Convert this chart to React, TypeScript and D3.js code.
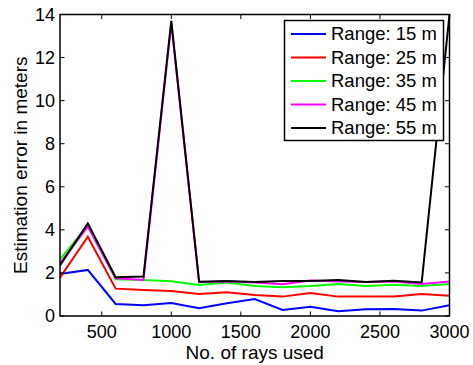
import React from "react";
import * as d3 from "d3";

const rays = [200, 400, 600, 800, 1000, 1200, 1400, 1600, 1800, 2000, 2200, 2400, 2600, 2800, 3000];
const range15 = [1.95, 2.14, 0.56, 0.5, 0.6, 0.36, 0.59, 0.79, 0.28, 0.43, 0.22, 0.31, 0.33, 0.25, 0.5];
const range25 = [1.78, 3.68, 1.27, 1.21, 1.16, 1.02, 1.1, 0.97, 0.9, 1.07, 0.9, 0.9, 0.9, 1.02, 0.94];
const range35 = [2.63, 4.2, 1.7, 1.67, 1.61, 1.44, 1.56, 1.39, 1.33, 1.39, 1.49, 1.39, 1.45, 1.39, 1.49];
const range45 = [2.45, 4.15, 1.75, 1.67, 13.6, 1.57, 1.6, 1.55, 1.47, 1.65, 1.6, 1.58, 1.6, 1.49, 1.6];
const range55 = [2.35, 4.3, 1.8, 1.83, 13.7, 1.59, 1.63, 1.58, 1.62, 1.62, 1.67, 1.58, 1.64, 1.56, 14];

const seriesNames = ["Range: 15 m", "Range: 25 m", "Range: 35 m", "Range: 45 m", "Range: 55 m"];
const seriesValues = [range15, range25, range35, range45, range55];
const seriesColors = ["#0000ff", "#ff0000", "#00ff00", "#ff00ff", "#000000"];

const xTicks = [500, 1000, 1500, 2000, 2500, 3000];
const yTicks = [0, 2, 4, 6, 8, 10, 12, 14];

export default function App() {
  const W = 473, H = 365;
  const left = 60, right = 449.5, top = 14.5, bottom = 316;
  const x = d3.scaleLinear().domain([200, 3000]).range([left, right]);
  const y = d3.scaleLinear().domain([0, 14]).range([bottom, top]);
  const line = d3.line<number>().x((_, i) => x(rays[i])).y((d) => y(d));
  const font = "Liberation Sans, Arial, sans-serif";
  const tl = 4.5;

  const legX = 284.5, legY = 20.5, legW = 159, legH = 120;

  return (
    <svg width={W} height={H} style={{ position: "absolute", left: 0, top: 0 }} fontFamily={font}>
      <rect x={0} y={0} width={W} height={H} fill="#fff" />
      {seriesValues.map((vals, i) => (
        <path key={i} d={line(vals) || ""} fill="none" stroke={seriesColors[i]} strokeWidth={2} strokeLinejoin="miter" />
      ))}
      <rect x={left} y={top} width={right - left} height={bottom - top} fill="none" stroke="#000" strokeWidth={1.5} />
      {xTicks.map((t) => (
        <g key={"x" + t}>
          <line x1={x(t)} x2={x(t)} y1={bottom} y2={bottom - tl} stroke="#000" strokeWidth={1} />
          <line x1={x(t)} x2={x(t)} y1={top} y2={top + tl} stroke="#000" strokeWidth={1} />
          <text x={x(t)} y={337.5} fontSize={18} textAnchor="middle" fill="#000">{t}</text>
        </g>
      ))}
      {yTicks.map((t) => (
        <g key={"y" + t}>
          <line x1={left} x2={left + tl} y1={y(t)} y2={y(t)} stroke="#000" strokeWidth={1} />
          <line x1={right} x2={right - tl} y1={y(t)} y2={y(t)} stroke="#000" strokeWidth={1} />
          <text x={55} y={y(t)} dy="0.35em" fontSize={18} textAnchor="end" fill="#000">{t}</text>
        </g>
      ))}
      <text x={(left + right) / 2} y={358.5} fontSize={19} textAnchor="middle" fill="#000">No. of rays used</text>
      <text transform={`translate(26.5,${(top + bottom) / 2}) rotate(-90)`} fontSize={19} textAnchor="middle" fill="#000">Estimation error in meters</text>
      <rect x={legX} y={legY} width={legW} height={legH} fill="#fff" stroke="#000" strokeWidth={1.5} />
      {seriesNames.map((n, i) => {
        const cy = 34 + i * 23.5;
        return (
          <g key={n}>
            <line x1={291} x2={326} y1={cy} y2={cy} stroke={seriesColors[i]} strokeWidth={2} />
            <text x={331} y={cy} dy="0.35em" fontSize={18.5} fill="#000">{n}</text>
          </g>
        );
      })}
    </svg>
  );
}
